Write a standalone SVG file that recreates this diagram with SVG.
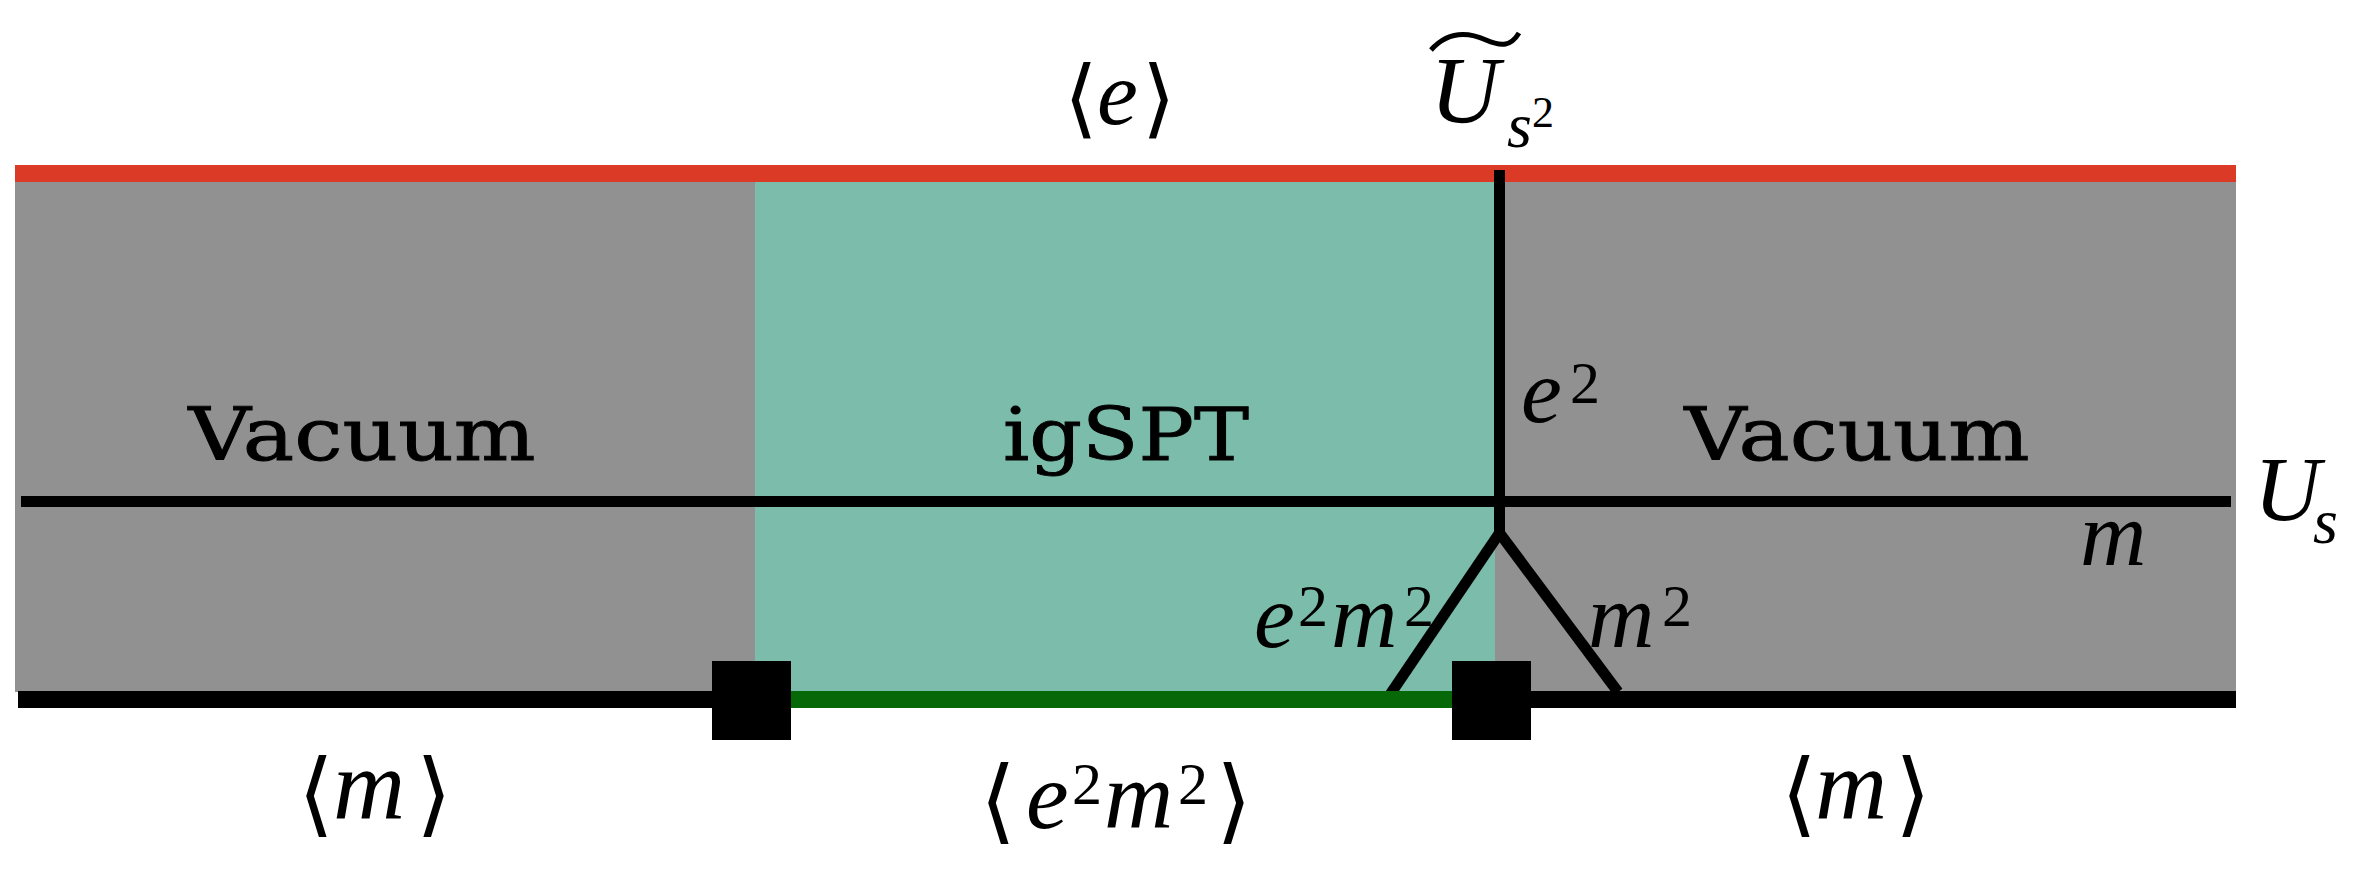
<svg xmlns="http://www.w3.org/2000/svg" width="2366" height="880" viewBox="0 0 2366 880">
<style>
.lbl{font-family:"DejaVu Serif",serif;font-size:72px;fill:#000;stroke:#000;stroke-width:0.9}
.math{font-family:"Liberation Serif","DejaVu Serif",serif;font-style:italic;fill:#000}
.sup{font-style:normal}
.br{font-family:"DejaVu Serif",serif;fill:#000}
.ln{stroke:#000;stroke-width:11;fill:none}
</style>
<rect width="2366" height="880" fill="#fff"/>
<g id="region-left"><rect x="15" y="182" width="740" height="510" fill="#919191"/></g>
<g id="region-igspt"><rect x="755" y="182" width="740" height="510" fill="#7bbcaa"/></g>
<g id="region-right"><rect x="1495" y="182" width="741" height="510" fill="#919191"/></g>
<g id="top-boundary"><rect x="15" y="165" width="2221" height="17" fill="#da3a26"/></g>
<g id="connectors">
<line class="ln" x1="21" y1="501.5" x2="2231" y2="501.5"/>
<line class="ln" x1="1499.5" y1="170" x2="1499.5" y2="536"/>
<line class="ln" x1="1499.5" y1="533" x2="1385" y2="702"/>
<line class="ln" x1="1499.5" y1="533" x2="1618" y2="692"/>
<line x1="18" y1="699.5" x2="715" y2="699.5" stroke="#000" stroke-width="17"/>
<line x1="790" y1="699.5" x2="1453" y2="699.5" stroke="#076808" stroke-width="17"/>
<line x1="1530" y1="699.5" x2="2236" y2="699.5" stroke="#000" stroke-width="17"/>
</g>
<g id="junction-left"><rect x="712" y="661" width="79" height="79" fill="#000"/></g>
<g id="junction-right"><rect x="1452" y="661" width="79" height="79" fill="#000"/></g>
<g id="labels">
<text class="lbl" x="362" y="460" text-anchor="middle" textLength="347" lengthAdjust="spacingAndGlyphs">Vacuum</text>
<text class="lbl" x="1126" y="460" text-anchor="middle" textLength="246" lengthAdjust="spacingAndGlyphs">igSPT</text>
<text class="lbl" x="1857" y="460" text-anchor="middle" textLength="345" lengthAdjust="spacingAndGlyphs">Vacuum</text>
</g>
<g id="top-label">
<text class="br" x="1064" y="127" font-size="86">⟨</text>
<text class="math" x="1097" y="124" font-size="92">e</text>
<text class="br" x="1142" y="127" font-size="86">⟩</text>
</g>
<g id="label-Us2">
<path d="M1431,50 C1448,31 1468,32 1486,40 C1502,47 1511,46 1519,33" stroke="#000" stroke-width="5" fill="none"/>
<text class="math" x="1430" y="123" font-size="96">U<tspan x="1507" y="147" font-size="64">s</tspan><tspan class="sup" x="1532" y="127" font-size="44">2</tspan></text>
</g>
<g id="label-Us">
<text class="math" x="2254" y="520" font-size="92">U<tspan x="2313" y="543" font-size="64">s</tspan></text>
</g>
<g id="edge-labels">
<text class="math" x="1521" y="422" font-size="92">e<tspan class="sup" x="1570" y="403" font-size="60">2</tspan></text>
<text class="math" x="2080" y="565" font-size="92">m</text>
<text class="math" x="1254" y="647" font-size="92">e<tspan class="sup" x="1298" y="626" font-size="60">2</tspan><tspan x="1331" y="647" font-size="92">m</tspan><tspan class="sup" x="1404" y="626" font-size="60">2</tspan></text>
<text class="math" x="1588" y="647" font-size="92">m<tspan class="sup" x="1662" y="626" font-size="60">2</tspan></text>
</g>
<g id="bottom-labels">
<text class="br" x="298" y="825" font-size="92">⟨</text>
<text class="math" x="333" y="818" font-size="100">m</text>
<text class="br" x="416" y="825" font-size="92">⟩</text>
<text class="br" x="980" y="832" font-size="92">⟨</text>
<text class="math" x="1026" y="828" font-size="96">e<tspan class="sup" x="1072" y="804" font-size="60">2</tspan><tspan x="1104" y="828" font-size="96">m</tspan><tspan class="sup" x="1178" y="804" font-size="60">2</tspan></text>
<text class="br" x="1216" y="832" font-size="92">⟩</text>
<text class="br" x="1781" y="825" font-size="92">⟨</text>
<text class="math" x="1815" y="818" font-size="100">m</text>
<text class="br" x="1895" y="825" font-size="92">⟩</text>
</g>
</svg>
